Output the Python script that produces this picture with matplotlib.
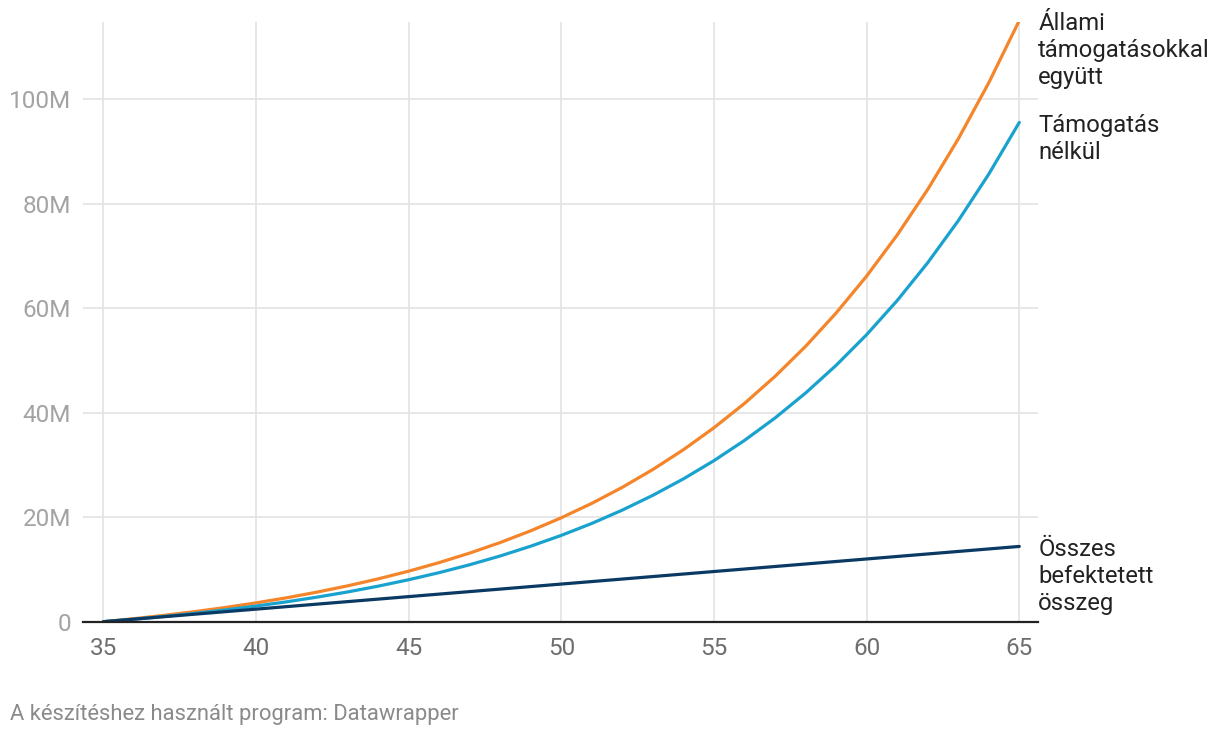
import matplotlib.pyplot as plt
from matplotlib.ticker import FuncFormatter

plt.rcParams['font.family'] = ['Roboto', 'DejaVu Sans']

# age (years) and account value in million HUF
ages = list(range(35, 66))
with_support = [0, 0.58, 1.22, 1.93, 2.72, 3.60, 4.57, 5.66, 6.86, 8.19, 9.67,
                11.31, 13.13, 15.15, 17.40, 19.89, 22.65, 25.72, 29.13, 32.91, 37.11,
                41.77, 46.94, 52.68, 59.06, 66.13, 73.98, 82.70, 92.37, 103.11, 115.03]
without_support = [0, 0.48, 1.01, 1.60, 2.26, 2.99, 3.80, 4.70, 5.69, 6.80, 8.03,
                   9.39, 10.90, 12.58, 14.45, 16.52, 18.81, 21.36, 24.19, 27.33, 30.82,
                   34.69, 38.98, 43.75, 49.05, 54.92, 61.44, 68.68, 76.71, 85.63, 95.53]
invested = [0, 0.48, 0.96, 1.44, 1.92, 2.40, 2.88, 3.36, 3.84, 4.32, 4.80,
            5.28, 5.76, 6.24, 6.72, 7.20, 7.68, 8.16, 8.64, 9.12, 9.60,
            10.08, 10.56, 11.04, 11.52, 12.00, 12.48, 12.96, 13.44, 13.92, 14.40]

series = [
    (with_support, '#f4852a', 'Állami\ntámogatásokkal\negyütt'),
    (without_support, '#1aa2cf', 'Támogatás\nnélkül'),
    (invested, '#0a3a64', 'Összes\nbefektetett\nösszeg'),
]

fig = plt.figure(figsize=(12.2, 7.38), dpi=100)
ax = fig.add_axes([0.068, 0.1576, 0.783, 0.813])

for vals, color, label in series:
    ax.plot(ages, vals, color=color, lw=2.3, solid_capstyle='round', zorder=3)
    ax.annotate(label, xy=(ages[-1], vals[-1]), xytext=(19, 8),
                textcoords='offset pixels', va='top', ha='left',
                fontsize=17.2, color='#222222', linespacing=1.22,
                annotation_clip=False)

ax.set_xlim(34.33, 65.62)
ax.set_ylim(0, 114.8)
ax.set_xticks(range(35, 66, 5))
ax.set_yticks(range(0, 101, 20))
ax.yaxis.set_major_formatter(FuncFormatter(lambda v, p: '0' if v == 0 else f'{int(v)}M'))

ax.grid(True, color='#e3e3e3', lw=1.2, zorder=0)
for s in ['top', 'right', 'left']:
    ax.spines[s].set_visible(False)
ax.spines['bottom'].set_color('#222222')
ax.spines['bottom'].set_linewidth(1.6)
ax.spines['bottom'].set_zorder(4)

ax.tick_params(axis='both', length=0)
ax.tick_params(axis='x', labelsize=17.5, labelcolor='#6e6e6e', pad=11)
ax.tick_params(axis='y', labelsize=17.5, labelcolor='#a3a3a3', pad=8.5)

fig.text(0.008, 0.032, 'A készítéshez használt program: Datawrapper',
         fontsize=15.8, color='#8a8a8a', va='center', ha='left')

fig.savefig('out.png', dpi=100)
